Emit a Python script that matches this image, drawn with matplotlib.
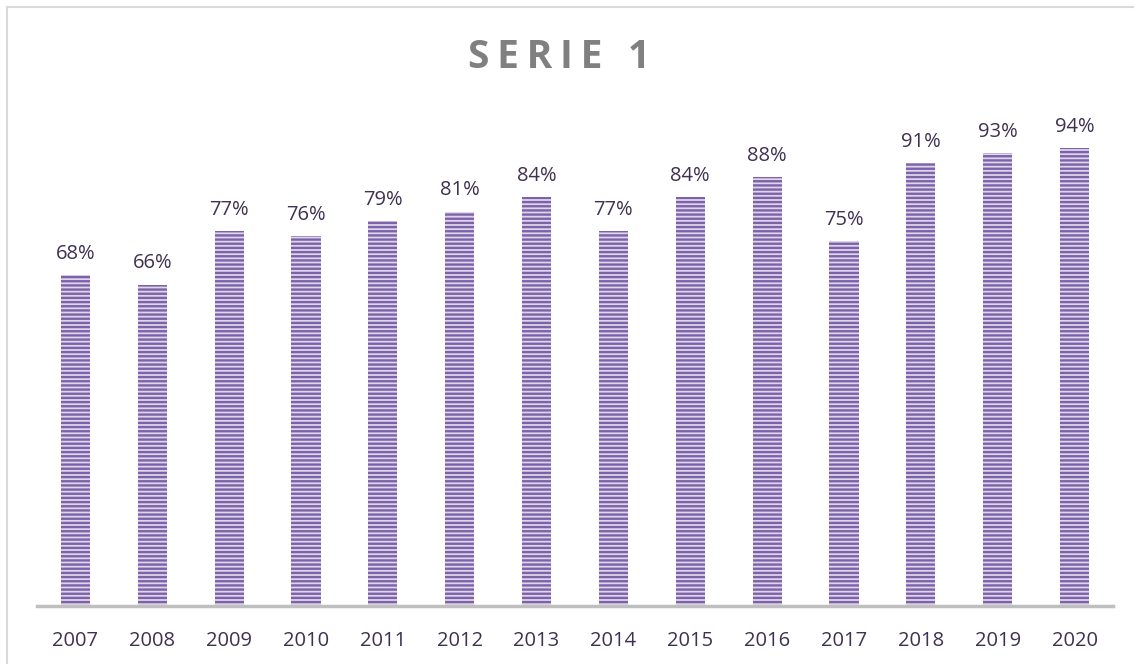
import matplotlib
matplotlib.use("Agg")
import matplotlib.pyplot as plt
from matplotlib.patches import Rectangle

years = ["2007", "2008", "2009", "2010", "2011", "2012", "2013",
         "2014", "2015", "2016", "2017", "2018", "2019", "2020"]
values = [68, 66, 77, 76, 79, 81, 84, 77, 84, 88, 75, 91, 93, 94]
title = "SERIE 1"

plt.rcParams['font.family'] = ['Open Sans', 'DejaVu Sans']
plt.rcParams['hatch.linewidth'] = 1.7

W, H = 1134, 664
fig = plt.figure(figsize=(W / 100, H / 100), dpi=100)
fig.patch.set_facecolor('white')

# outer border (left and top visible)
fig.add_artist(Rectangle((7 / W, -0.05), 1.2, (H - 7) / H + 0.05, transform=fig.transFigure,
                         fill=False, edgecolor='#D9D9D9', linewidth=1.5))

ax = fig.add_axes([37 / W, (H - 606) / H, (1113 - 37) / W, (606 - 119) / H])
x = list(range(len(years)))
bars = ax.bar(x, values, width=0.38, facecolor='#DDD5EA', edgecolor='#7D62A9',
              hatch='----', linewidth=0)
ax.set_xlim(-0.5, len(years) - 0.5)
ax.set_ylim(0, 100)

for xi, v in zip(x, values):
    ax.annotate(f"{v}%", (xi, v), xytext=(0, 8), textcoords='offset points',
                ha='center', va='bottom', fontsize=14.5, color='#3F3151')

ax.set_xticks(x)
ax.set_xticklabels(years, fontsize=14.5, color='#3F3151')
ax.tick_params(axis='x', length=0, pad=18)
ax.set_yticks([])
for s in ['top', 'right', 'left']:
    ax.spines[s].set_visible(False)
ax.spines['bottom'].set_color('#BFBFBF')
ax.spines['bottom'].set_linewidth(2.5)
ax.set_facecolor('none')

spaced_title = "\u2009".join(title)
fig.text(559 / W, 1 - 57 / H, spaced_title,
         ha='center', va='center', fontsize=28, fontweight='bold', color='#808080')

fig.savefig("out.png", dpi=100)
